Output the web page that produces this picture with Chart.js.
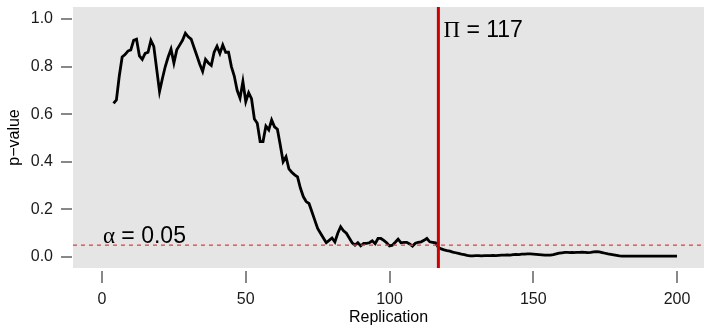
<!DOCTYPE html>
<html>
<head>
<meta charset="utf-8">
<script src="https://cdn.jsdelivr.net/npm/chart.js@4.4.1/dist/chart.umd.min.js"></script>
<style>
  html, body { margin: 0; padding: 0; background: #ffffff; }
  #wrap { width: 704px; height: 327px; position: relative; }
</style>
</head>
<body>
<div id="wrap"><canvas id="c"></canvas></div>
<script>
// ---- data ----
const firstRep = 4;
const pvals = [
  // 4 - 13
  0.645, 0.66, 0.76, 0.84, 0.85, 0.865, 0.87, 0.91, 0.915, 0.845,
  // 14 - 23
  0.83, 0.855, 0.86, 0.91, 0.885, 0.79, 0.695, 0.75, 0.80, 0.84,
  // 24 - 33
  0.873, 0.815, 0.87, 0.89, 0.91, 0.94, 0.925, 0.915, 0.88, 0.845,
  // 34 - 43
  0.81, 0.78, 0.83, 0.815, 0.805, 0.86, 0.885, 0.855, 0.89, 0.86,
  // 44 - 53
  0.86, 0.80, 0.76, 0.70, 0.667, 0.737, 0.653, 0.69, 0.665, 0.58,
  // 54 - 63
  0.562, 0.485, 0.485, 0.55, 0.534, 0.576, 0.547, 0.537, 0.47, 0.40,
  // 64 - 73
  0.421, 0.37, 0.356, 0.345, 0.337, 0.29, 0.254, 0.233, 0.225, 0.19,
  // 74 - 83
  0.155, 0.12, 0.10, 0.08, 0.06, 0.07, 0.08, 0.063, 0.10, 0.127,
  // 84 - 93
  0.11, 0.10, 0.08, 0.06, 0.05, 0.06, 0.047, 0.057, 0.057, 0.06,
  // 94 - 103
  0.068, 0.056, 0.078, 0.078, 0.07, 0.06, 0.047, 0.05, 0.062, 0.075,
  // 104 - 113
  0.06, 0.062, 0.062, 0.055, 0.046, 0.058, 0.062, 0.064, 0.07, 0.078,
  // 114 - 123
  0.064, 0.062, 0.06, 0.04, 0.034, 0.03, 0.027, 0.025, 0.021, 0.018,
  // 124 - 133
  0.015, 0.012, 0.01, 0.007, 0.005, 0.005, 0.006, 0.006, 0.005, 0.006,
  // 134 - 143
  0.006, 0.006, 0.007, 0.006, 0.007, 0.008, 0.008, 0.009, 0.008, 0.010,
  // 144 - 153
  0.011, 0.010, 0.012, 0.012, 0.013, 0.013, 0.012, 0.011, 0.010, 0.009,
  // 154 - 163
  0.008, 0.008, 0.008, 0.010, 0.013, 0.016, 0.018, 0.020, 0.020, 0.019,
  // 164 - 173
  0.019, 0.020, 0.020, 0.021, 0.020, 0.019, 0.020, 0.022, 0.023, 0.022,
  // 174 - 183
  0.019, 0.016, 0.013, 0.011, 0.009, 0.007, 0.005, 0.004, 0.004, 0.004,
  // 184 - 193
  0.004, 0.004, 0.004, 0.004, 0.004, 0.004, 0.004, 0.004, 0.004, 0.004,
  // 194 - 200
  0.004, 0.004, 0.004, 0.004, 0.004, 0.004, 0.004
];
const reps = pvals.map((_, i) => firstRep + i);
const xTicks = [0, 50, 100, 150, 200];
const yTicks = [0.0, 0.2, 0.4, 0.6, 0.8, 1.0];
const piValue = 117;
const alphaValue = 0.05;
const piLabel = ["\u03A0", " = 117"];
const alphaLabel = ["\u03B1", " = 0.05"];
const xTitle = "Replication";
const yTitle = "p\u2212value";

const points = reps.map((r, i) => ({ x: r, y: pvals[i] }));

const SANS = "'Liberation Sans', Arial, sans-serif";
const SERIF = "'Liberation Serif', 'DejaVu Serif', serif";

const decor = {
  id: 'decor',
  beforeDraw(chart) {
    const a = chart.chartArea, ctx = chart.ctx;
    ctx.save();
    ctx.fillStyle = '#E5E5E5';
    ctx.fillRect(a.left, a.top, a.right - a.left, a.bottom - a.top);
    ctx.restore();
  },
  afterDatasetsDraw(chart) {
    const a = chart.chartArea, ctx = chart.ctx;
    const xs = chart.scales.x, ys = chart.scales.y;
    ctx.save();
    // dashed alpha line
    const ya = ys.getPixelForValue(alphaValue);
    ctx.strokeStyle = '#D9464A';
    ctx.lineWidth = 1.3;
    ctx.setLineDash([4, 4]);
    ctx.beginPath();
    ctx.moveTo(a.left, ya); ctx.lineTo(a.right, ya); ctx.stroke();
    ctx.setLineDash([]);
    // vertical Pi line
    const xp = xs.getPixelForValue(piValue);
    ctx.strokeStyle = '#CC0000';
    ctx.lineWidth = 3;
    ctx.beginPath();
    ctx.moveTo(xp, a.top); ctx.lineTo(xp, a.bottom); ctx.stroke();
    // labels
    ctx.fillStyle = '#000000';
    ctx.textBaseline = 'alphabetic';
    ctx.textAlign = 'left';
    let x = xp + 5, y = ys.getPixelForValue(0.925);
    ctx.font = '23px ' + SERIF;
    ctx.fillText(piLabel[0], x, y);
    x += ctx.measureText(piLabel[0]).width;
    ctx.font = '23px ' + SANS;
    ctx.fillText(piLabel[1], x, y);
    x = xs.getPixelForValue(0.3); y = ya - 2;
    ctx.font = '23px ' + SERIF;
    ctx.fillText(alphaLabel[0], x, y);
    x += ctx.measureText(alphaLabel[0]).width;
    ctx.font = '23px ' + SANS;
    ctx.fillText(alphaLabel[1], x, y);
    ctx.restore();
  },
  afterDraw(chart) {
    const a = chart.chartArea, ctx = chart.ctx;
    const xs = chart.scales.x, ys = chart.scales.y;
    ctx.save();
    ctx.strokeStyle = '#888888';
    ctx.lineWidth = 2;
    ctx.beginPath();
    xTicks.forEach(v => {
      const px = Math.round(xs.getPixelForValue(v));
      ctx.moveTo(px, a.bottom + 3); ctx.lineTo(px, a.bottom + 15);
    });
    yTicks.forEach(v => {
      const py = Math.round(ys.getPixelForValue(v));
      ctx.moveTo(a.left - 12, py); ctx.lineTo(a.left - 1, py);
    });
    ctx.stroke();
    ctx.restore();
  }
};

function zeroPad(s) {
  s.paddingLeft = 0; s.paddingRight = 0; s.paddingTop = 0; s.paddingBottom = 0;
}

new Chart(document.getElementById('c'), {
  type: 'line',
  data: {
    datasets: [{
      data: points,
      borderColor: '#000000',
      borderWidth: 2.8,
      pointRadius: 0,
      tension: 0,
      fill: false
    }]
  },
  options: {
    responsive: true,
    maintainAspectRatio: false,
    animation: false,
    layout: { padding: { top: 7, right: 0, left: 0, bottom: 0 } },
    plugins: { legend: { display: false }, tooltip: { enabled: false } },
    scales: {
      x: {
        type: 'linear',
        min: -10.1,
        max: 209.4,
        afterBuildTicks: s => { s.ticks = xTicks.map(v => ({ value: v })); },
        afterFit: s => { s.height = 59; zeroPad(s); },
        grid: { display: false, drawTicks: false },
        border: { display: false },
        ticks: {
          padding: 22,
          color: '#1A1A1A',
          font: { family: SANS, size: 16 },
          maxRotation: 0,
          callback: v => String(v)
        },
        title: {
          display: true,
          text: xTitle,
          color: '#000000',
          font: { family: SANS, size: 16 },
          padding: { top: 0, bottom: 0 }
        }
      },
      y: {
        type: 'linear',
        min: -0.046,
        max: 1.05,
        afterBuildTicks: s => { s.ticks = yTicks.map(v => ({ value: v })); },
        afterFit: s => { s.width = 73; zeroPad(s); },
        grid: { display: false, drawTicks: false },
        border: { display: false },
        ticks: {
          padding: 20,
          color: '#1A1A1A',
          font: { family: SANS, size: 16 },
          callback: v => Number(v).toFixed(1)
        },
        title: {
          display: true,
          text: yTitle,
          color: '#000000',
          font: { family: SANS, size: 16 },
          padding: { top: 5, bottom: 0 }
        }
      }
    }
  },
  plugins: [decor]
});
</script>
</body>
</html>
